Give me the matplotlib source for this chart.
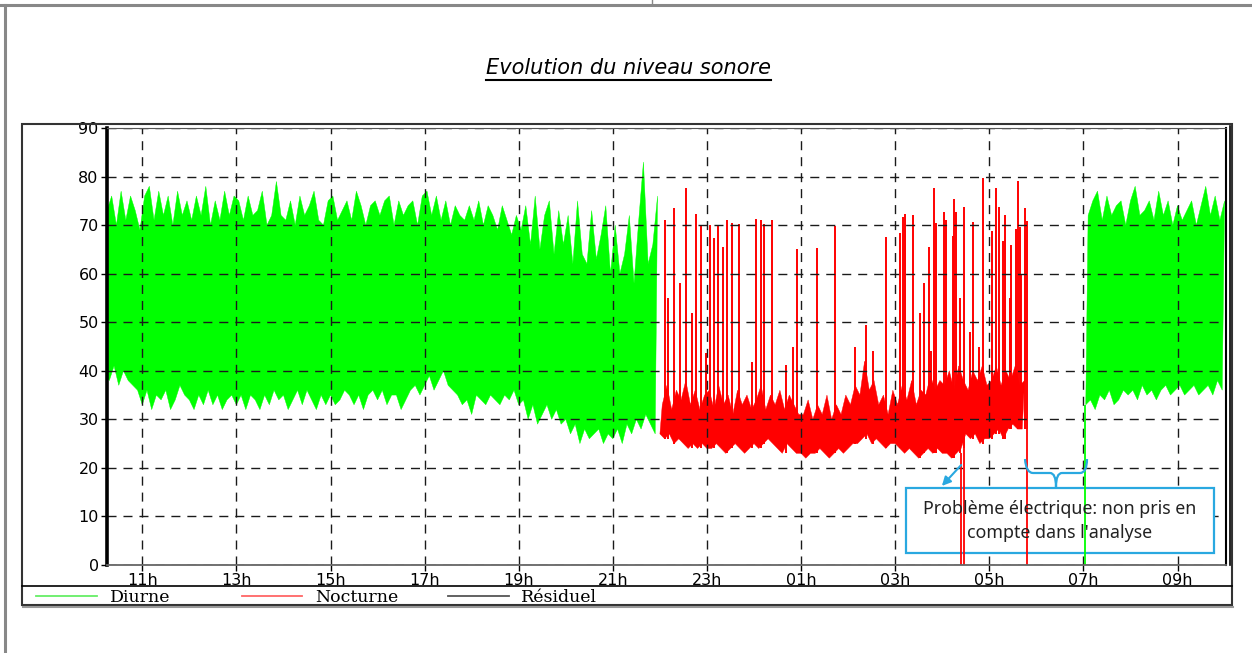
import numpy as np
import matplotlib
matplotlib.use('Agg')
import matplotlib.pyplot as plt
from matplotlib.lines import Line2D
from matplotlib.patches import Rectangle, FancyArrowPatch, PathPatch
from matplotlib.path import Path

# ---------------- donnees (dB(A), pas de 6 min : min / max par pas) ----------------
# heures > 24 = lendemain (25 -> 01h)
pas = 0.1

diurne1_debut = 10.2
diurne1_max = [73, 76, 70, 77, 71, 76, 73, 69,
               76, 78, 71, 77, 72, 76, 70, 77, 72, 75,
               71, 76, 72, 78, 70, 75, 71, 77, 72, 76,
               75, 71, 76, 72, 73, 77, 70, 72, 79, 72,
               71, 75, 70, 76, 72, 74, 77, 71, 70, 75,
               76, 71, 73, 75, 71, 77, 74, 70, 74, 75,
               72, 75, 76, 70, 75, 72, 74, 75, 70, 76,
               77, 72, 76, 71, 75, 70, 74, 72, 71, 74,
               71, 75, 70, 74, 72, 69, 74, 71, 68, 72,
               69, 74, 66, 76, 65, 72, 75, 64, 73, 66,
               72, 62, 75, 64, 62, 73, 63, 68, 74, 60,
               70, 60, 64, 72, 58, 71, 83, 62, 66, 76]
diurne1_min = [39, 38, 41, 37, 40, 38, 37, 36,
               33, 36, 32, 35, 34, 36, 32, 34, 37, 35,
               34, 32, 35, 33, 36, 33, 35, 32, 34, 35,
               33, 35, 32, 35, 34, 32, 35, 33, 36, 34,
               35, 32, 34, 36, 33, 36, 34, 32, 35, 33,
               35, 33, 34, 36, 35, 33, 35, 32, 35, 36,
               34, 36, 33, 35, 35, 32, 34, 36, 37, 35,
               37, 39, 36, 38, 40, 37, 36, 35, 33, 34,
               31, 35, 34, 33, 35, 34, 33, 35, 34, 36,
               33, 34, 30, 33, 29, 31, 33, 30, 32, 29,
               30, 27, 29, 25, 28, 26, 27, 28, 25, 27,
               26, 28, 25, 29, 27, 30, 28, 31, 29, 27]

nocturne_debut = 22.0
nocturne_max = [33, 37, 32, 36, 34, 38, 33, 36, 32, 35,
                36, 32, 37, 33, 35, 31, 36, 33, 35, 32,
                34, 37, 32, 35, 33, 36, 32, 35, 33, 31,
                31, 34, 30, 33, 31, 35, 30, 33, 31, 35,
                33, 37, 35, 42, 36, 38, 33, 35, 31, 36,
                33, 37, 34, 38, 33, 36, 35, 39, 36, 38,
                37, 40, 36, 41, 38, 36, 40, 38, 41, 37,
                38, 41, 37, 40, 38, 41, 37, 38]
nocturne_min = [27, 26, 27, 25, 26, 25, 24, 25, 24, 25,
                24, 24, 25, 24, 23, 24, 25, 24, 23, 24,
                25, 24, 25, 26, 25, 24, 23, 25, 24, 23,
                23, 22, 23, 23, 24, 23, 22, 23, 24, 23,
                24, 25, 25, 26, 27, 25, 26, 25, 24, 25,
                25, 24, 23, 24, 23, 22, 23, 24, 23, 24,
                23, 23, 22, 23, 24, 27, 26, 27, 25, 26,
                26, 27, 28, 26, 28, 29, 28, 28]

# pics isoles de la periode nocturne
pics_h = [22.10, 22.17, 22.30, 22.42, 22.55, 22.68, 22.76, 22.87, 22.97, 23.06,
          23.16, 23.23, 23.34, 23.42, 23.53, 23.68, 23.95, 24.04, 24.14, 24.21,
          24.38, 24.69, 24.82, 24.91, 25.33, 25.73, 26.14, 26.39, 26.52, 26.80,
          27.11, 27.16, 27.20, 27.37, 27.52, 27.62, 27.71, 27.77, 27.82, 27.86,
          28.03, 28.09, 28.22, 28.26, 28.30, 28.37, 28.47, 28.58, 28.66, 28.79,
          28.86, 29.05, 29.15, 29.20, 29.30, 29.34, 29.43, 29.47, 29.56, 29.60,
          29.66, 29.68, 29.75, 29.81]
pics_db = [71, 55, 73.6, 58, 77.7, 52, 72.2, 70, 43.7, 70,
           67.4, 69.8, 65.4, 71, 70.4, 70.3, 41.9, 71.3, 71.1, 70.3,
           71.1, 41.2, 45, 65, 65.2, 69.8, 45, 49.5, 44, 67.6,
           68.4, 71.7, 72.2, 72, 52, 58, 65.4, 44, 77.7, 70.5,
           72.8, 71, 67.8, 75.3, 72.8, 55, 73.8, 48, 70.6, 45,
           79.6, 68.7, 77.7, 73.8, 66.8, 72, 55, 66, 69.3, 79,
           69.7, 60, 73.6, 70.8]

# coupures (probleme electrique) : niveau retombe a 0
coupures_h = [28.39, 28.47, 29.81]
coupures_db = [0, 0, 0]

diurne2_debut = 31.05
diurne2_max = [72, 75, 77, 71, 76, 72, 74, 75, 70, 75,
               78, 72, 73, 75, 71, 77, 72, 75, 70, 74,
               71, 73, 75, 70, 74, 78, 72, 76, 71, 75]
diurne2_min = [33, 34, 32, 35, 34, 36, 33, 34, 36, 35,
               36, 34, 37, 35, 36, 34, 36, 37, 35, 36,
               37, 35, 36, 37, 35, 36, 37, 35, 38, 36]
reprise_h = [31.03]
reprise_db = [0]

heures = [11, 13, 15, 17, 19, 21, 23, 25, 27, 29, 31, 33]
heures_labels = ['11h', '13h', '15h', '17h', '19h', '21h', '23h', '01h', '03h', '05h', '07h', '09h']
niveaux = [0, 10, 20, 30, 40, 50, 60, 70, 80, 90]

VERT = '#00ff00'
ROUGE = '#ff0000'
BLEU = '#29a8e0'

W, H = 1252, 653


def px(x, y):
    # pixel (origine en haut a gauche) -> fraction de figure
    return (x / W, 1 - y / H)


def bande(debut, lo, hi):
    # polygone : max vers la droite puis min vers la gauche
    t = debut + pas * np.arange(len(lo))
    xs = np.concatenate([t + pas / 2, t[::-1]])
    ys = np.concatenate([np.array(hi), np.array(lo)[::-1]])
    return xs, ys


fig = plt.figure(figsize=(W / 100, H / 100), dpi=100)
ax = fig.add_axes([107 / W, 1 - 565 / H, (1226 - 107) / W, (565 - 128) / H])

for debut, lo, hi, c in [(diurne1_debut, diurne1_min, diurne1_max, VERT),
                         (nocturne_debut, nocturne_min, nocturne_max, ROUGE),
                         (diurne2_debut, diurne2_min, diurne2_max, VERT)]:
    xs, ys = bande(debut, lo, hi)
    ax.fill(xs, ys, color=c, lw=0.3, zorder=1)

# pics nocturnes
idx = ((np.array(pics_h) - nocturne_debut) / pas).astype(int)
base = np.array(nocturne_min)[np.clip(idx, 0, len(nocturne_min) - 1)]
ax.vlines(pics_h, base, pics_db, color=ROUGE, lw=1.4, zorder=1.2)

# coupures
idx = ((np.array(coupures_h) - nocturne_debut) / pas).astype(int)
base = np.array(nocturne_min)[np.clip(idx, 0, len(nocturne_min) - 1)]
ax.vlines(coupures_h, coupures_db, base, color=ROUGE, lw=1.3, zorder=2)
ax.vlines(reprise_h, reprise_db, diurne2_min[0], color=VERT, lw=1.3, zorder=2)

ax.set_xlim(10.25, 34.03)
ax.set_ylim(0, 90)
ax.set_xticks(heures)
ax.set_xticklabels(heures_labels)
ax.set_yticks(niveaux)
ax.set_yticklabels([str(v) for v in niveaux])
ax.tick_params(direction='out', length=4, width=1, labelsize=11.5, pad=2)

ax.set_axisbelow('line')
ax.grid(True, color='#1a1a1a', lw=1, linestyle=(0, (6.5, 5)))

ax.spines['left'].set_linewidth(2.6)
ax.spines['left'].set_color('black')
ax.spines['bottom'].set_color('#666666')
ax.spines['bottom'].set_linewidth(1.3)
ax.spines['top'].set_color('#555555')
ax.spines['right'].set_color('black')
ax.spines['right'].set_linewidth(1.5)
fig.add_artist(Line2D([1229.5 / W] * 2, [1 - 565 / H, 1 - 126 / H], color='black', lw=1.2))

# cadre du graphique + bande de legende
fig.add_artist(Rectangle(px(22, 605), (1232 - 22) / W, (605 - 124) / H, fill=False,
                         ec='#333333', lw=1.5))
fig.add_artist(Line2D([22 / W, 1232 / W], [1 - 586 / H] * 2, color='black', lw=1.2))
fig.add_artist(Line2D([23 / W, 1233 / W], [1 - 607 / H] * 2, color='#999999', lw=1.5))

# cadre de page
fig.add_artist(Line2D([0, 1], [1 - 5 / H] * 2, color='#888888', lw=2.2))
fig.add_artist(Line2D([5 / W] * 2, [0, 1 - 5 / H], color='#888888', lw=2.2))
fig.add_artist(Line2D([652 / W] * 2, [1 - 5 / H, 1], color='#888888', lw=1))

# legende
legende = [('Diurne', '#66ee66', 36, 97, 110),
           ('Nocturne', '#ff6666', 242, 302, 315),
           ('Résiduel', '#555555', 448, 509, 521)]
for nom, c, x0, x1, xt in legende:
    fig.add_artist(Line2D([x0 / W, x1 / W], [1 - 596 / H] * 2, color=c, lw=1.3))
    fig.text(xt / W, 1 - 597 / H, nom, family='DejaVu Serif', fontsize=12.5,
             ha='left', va='center')

# titre souligne
titre = fig.text(628 / W, 1 - 68 / H, 'Evolution du niveau sonore', style='italic',
                 fontsize=15, ha='center', va='center', family='DejaVu Sans')
fig.canvas.draw()
bb = titre.get_window_extent()
fig.add_artist(Line2D([bb.x0 / W, bb.x1 / W], [(bb.y0 - 2) / H] * 2, color='black', lw=1.5))

# annotation
ax.add_patch(Rectangle(px(906, 553), 308 / W, 65 / H, transform=fig.transFigure,
                       fc='white', ec=BLEU, lw=1.6, zorder=1.8, clip_on=False))
fig.text(1060 / W, 1 - 521 / H, "Problème électrique: non pris en\ncompte dans l'analyse",
         family='Noto Sans', fontsize=12.8, color='#222222', ha='center', va='center',
         linespacing=1.45)
fig.add_artist(FancyArrowPatch(px(963, 463), px(940, 488), transform=fig.transFigure,
                               arrowstyle='-|>', mutation_scale=13, color=BLEU, lw=1.5))
accolade = [(1025, 459), (1026, 473), (1033, 473), (1050, 473), (1056, 473), (1056, 487),
            (1056, 473), (1062, 473), (1080, 473), (1087, 473), (1087, 459)]
codes = [Path.MOVETO, Path.CURVE3, Path.CURVE3, Path.LINETO, Path.CURVE3, Path.CURVE3,
         Path.CURVE3, Path.CURVE3, Path.LINETO, Path.CURVE3, Path.CURVE3]
fig.add_artist(PathPatch(Path([px(*p) for p in accolade], codes), transform=fig.transFigure,
                         fill=False, ec=BLEU, lw=1.6))

fig.savefig('out.png', dpi=100)
